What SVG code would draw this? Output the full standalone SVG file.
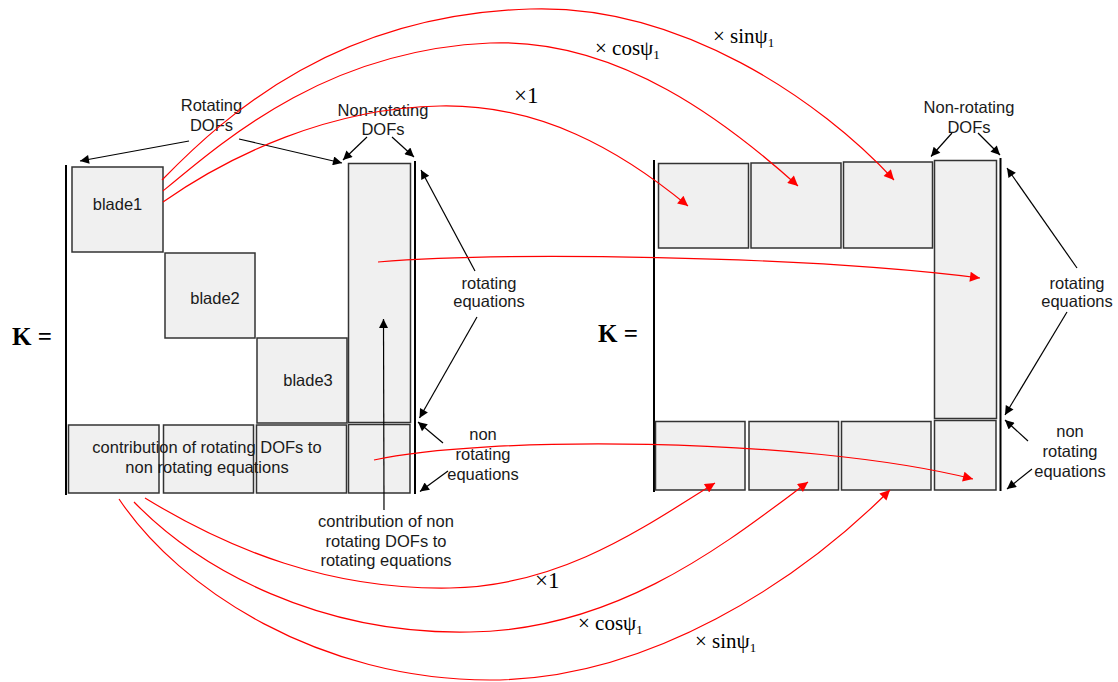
<svg xmlns="http://www.w3.org/2000/svg" width="1118" height="682" viewBox="0 0 1118 682">
<style>
.box{fill:#f0f0f0;stroke:#333;stroke-width:1.5}
.bar{stroke:#000;stroke-width:2;fill:none}
.lbl{font-family:"Liberation Sans",Arial,sans-serif;font-size:16.5px;fill:#1a1a1a;text-anchor:middle}
.k{font-family:"Liberation Serif","Times New Roman",serif;font-size:25px;font-weight:bold;fill:#000}
.m{font-family:"Liberation Serif","Times New Roman",serif;font-size:21px;fill:#000}
.m1{font-family:"Liberation Serif","Times New Roman",serif;font-size:23px;fill:#000}
.sub{font-size:13px}
.blk{stroke:#000;stroke-width:1.2;fill:none;marker-end:url(#ab)}
.red{stroke:#f00;stroke-width:1.2;fill:none;marker-end:url(#ar)}
</style>
<defs>
<marker id="ab" viewBox="0 0 10 10" refX="10" refY="5" markerWidth="11" markerHeight="9" orient="auto" markerUnits="userSpaceOnUse"><path d="M0,0 L10,5 L0,10 z" fill="#000"/></marker>
<marker id="ar" viewBox="0 0 10 10" refX="10" refY="5" markerWidth="12" markerHeight="10" orient="auto" markerUnits="userSpaceOnUse"><path d="M0,0 L10,5 L0,10 z" fill="#f00"/></marker>
</defs>
<rect width="1118" height="682" fill="#fff"/>

<g id="left-matrix">
<text class="k" x="12" y="345">K =</text>
<line class="bar" x1="66" y1="165" x2="66" y2="495"/>
<line class="bar" x1="415" y1="161" x2="415" y2="494"/>
</g>
<g id="blade1"><rect class="box" x="72" y="167" width="91" height="85"/><text class="lbl" x="117.5" y="210">blade1</text></g>
<g id="blade2"><rect class="box" x="165" y="253" width="90" height="85"/><text class="lbl" x="215" y="304">blade2</text></g>
<g id="blade3"><rect class="box" x="257" y="338" width="90" height="85"/><text class="lbl" x="308" y="386">blade3</text></g>
<g id="left-col"><rect class="box" x="348.5" y="163.5" width="62" height="259"/></g>
<g id="left-bottom-row">
<rect class="box" x="68.5" y="425" width="90.5" height="68"/>
<rect class="box" x="163.5" y="425" width="90" height="68"/>
<rect class="box" x="256.5" y="425" width="90" height="68"/>
<rect class="box" x="348.5" y="424.5" width="61.5" height="68.5"/>
<text class="lbl" x="207" y="453">contribution of rotating DOFs to</text>
<text class="lbl" x="207" y="473">non rotating equations</text>
</g>

<g id="right-matrix">
<text class="k" x="598" y="342">K =</text>
<line class="bar" x1="654" y1="160" x2="654" y2="492"/>
<line class="bar" x1="1000.5" y1="158" x2="1000.5" y2="491"/>
</g>
<g id="right-top-row">
<rect class="box" x="658.5" y="163.5" width="90" height="84.5"/>
<rect class="box" x="751" y="163" width="90" height="85"/>
<rect class="box" x="843.5" y="162" width="89" height="86"/>
</g>
<g id="right-col"><rect class="box" x="934.5" y="160.5" width="62" height="258"/></g>
<g id="right-bottom-row">
<rect class="box" x="655.5" y="421.5" width="89.5" height="68.5"/>
<rect class="box" x="749" y="421.5" width="89.5" height="68.5"/>
<rect class="box" x="841.5" y="421.5" width="89.5" height="68.5"/>
<rect class="box" x="934.5" y="420.5" width="61.5" height="69.5"/>
</g>

<g id="labels">
<text class="lbl" x="211.5" y="111">Rotating</text>
<text class="lbl" x="211.5" y="131">DOFs</text>
<text class="lbl" x="383" y="116">Non-rotating</text>
<text class="lbl" x="383" y="135">DOFs</text>
<text class="lbl" x="489" y="289">rotating</text>
<text class="lbl" x="489" y="307">equations</text>
<text class="lbl" x="483" y="440">non</text>
<text class="lbl" x="483" y="460">rotating</text>
<text class="lbl" x="483" y="480">equations</text>
<text class="lbl" x="386" y="527">contribution of non</text>
<text class="lbl" x="386" y="547">rotating DOFs to</text>
<text class="lbl" x="386" y="566">rotating equations</text>
<text class="lbl" x="969" y="113">Non-rotating</text>
<text class="lbl" x="969" y="133">DOFs</text>
<text class="lbl" x="1077" y="289">rotating</text>
<text class="lbl" x="1077" y="307">equations</text>
<text class="lbl" x="1070" y="437">non</text>
<text class="lbl" x="1070" y="457">rotating</text>
<text class="lbl" x="1070" y="477">equations</text>
<text class="m1" x="514" y="103">×1</text>
<text class="m" x="595" y="55">× cosψ<tspan class="sub" dy="4">1</tspan></text>
<text class="m" x="713" y="43">× sinψ<tspan class="sub" dy="4">1</tspan></text>
<text class="m1" x="535" y="588">×1</text>
<text class="m" x="578" y="630">× cosψ<tspan class="sub" dy="4">1</tspan></text>
<text class="m" x="695" y="648">× sinψ<tspan class="sub" dy="4">1</tspan></text>
</g>

<g id="connectors">
<line class="blk" x1="189" y1="141" x2="80" y2="161"/>
<line class="blk" x1="239" y1="139" x2="342" y2="163"/>
<line class="blk" x1="367" y1="137" x2="343" y2="160"/>
<line class="blk" x1="392" y1="137" x2="414" y2="157"/>
<line class="blk" x1="475" y1="271" x2="421" y2="170"/>
<line class="blk" x1="477" y1="317" x2="419.5" y2="418"/>
<line class="blk" x1="443" y1="443" x2="418" y2="422"/>
<line class="blk" x1="448" y1="471" x2="420" y2="491.5"/>
<line class="blk" x1="384" y1="510" x2="383.5" y2="319"/>
<line class="blk" x1="952" y1="133" x2="931" y2="156.5"/>
<line class="blk" x1="978" y1="133" x2="1000" y2="155"/>
<line class="blk" x1="1077" y1="268" x2="1007" y2="168"/>
<line class="blk" x1="1067" y1="312" x2="1005" y2="415"/>
<line class="blk" x1="1028" y1="441" x2="1005" y2="420"/>
<line class="blk" x1="1032" y1="469" x2="1007" y2="489"/>

<path class="red" d="M163,202 C230,155 330,108 440,106 C540,104 620,150 688,206"/>
<path class="red" d="M163,191 C230,135 330,50 490,43 C620,38 730,125 798,186"/>
<path class="red" d="M162,180 C230,110 340,15 530,9 C680,4 820,100 894,180"/>
<path class="red" d="M378,262 C500,252 800,255 980,278"/>
<path class="red" d="M374,460 C480,436 800,436 973,479"/>
<path class="red" d="M145,498 C230,550 330,590 450,588 C560,586 640,530 715,483"/>
<path class="red" d="M134,502 C200,570 320,635 470,632 C620,630 730,540 808,482"/>
<path class="red" d="M119,499 C180,590 320,680 490,680 C650,680 800,580 890,490"/>
</g>
</svg>
